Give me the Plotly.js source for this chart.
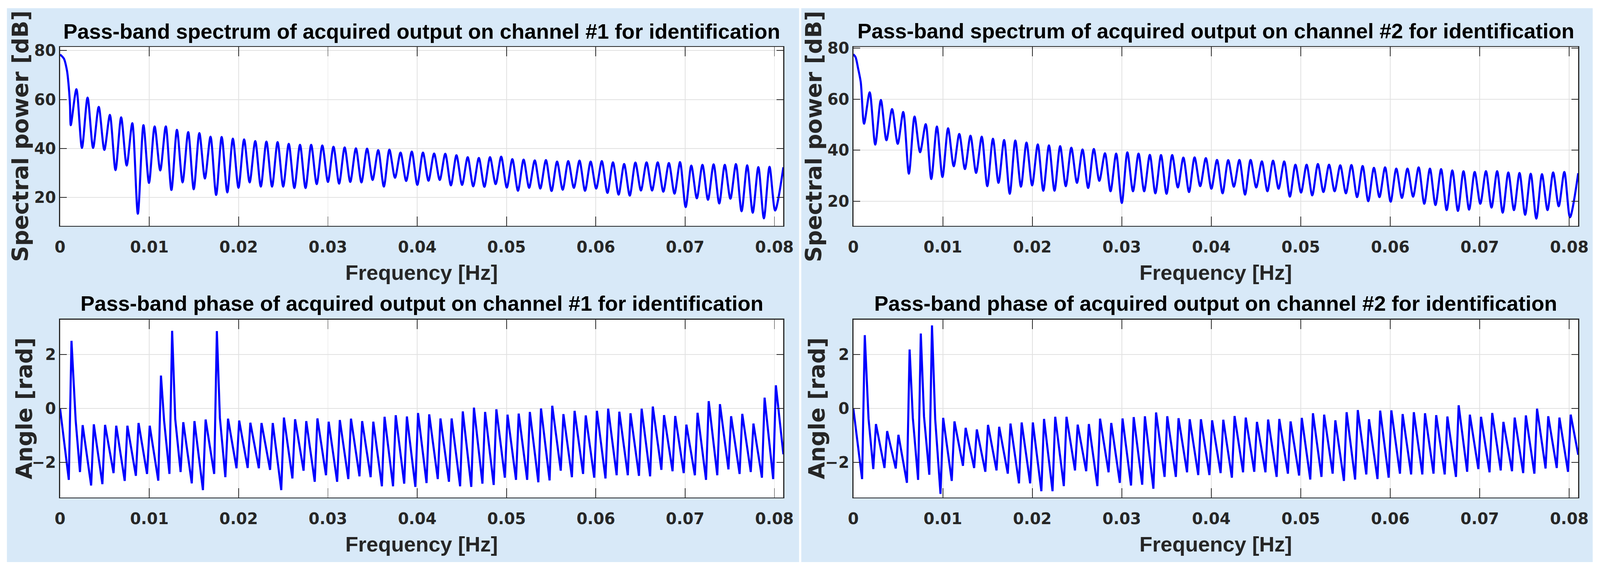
<!DOCTYPE html>
<html>
<head>
<meta charset="utf-8">
<script src="https://cdn.plot.ly/plotly-3.0.1.min.js"></script>
<style>html,body{margin:0;padding:0;background:#fff;overflow:hidden;}</style>
</head>
<body>
<div id="chart"></div>
<script>
// ---------- DATA ----------
// Spectrum: frequencies of the nulls and of the lobe peaks [Hz]
const specNullF = [0.00120,0.00245,0.00370,0.00496,0.00621,0.00746,0.00871,0.00996,0.01122,0.01247,
  0.01372,0.01497,0.01622,0.01748,0.01873,0.01998,0.02123,0.02248,0.02374,0.02499,
  0.02624,0.02749,0.02874,0.03000,0.03125,0.03250,0.03375,0.03500,0.03626,0.03751,
  0.03876,0.04001,0.04126,0.04252,0.04377,0.04502,0.04627,0.04752,0.04878,0.05003,
  0.05128,0.05253,0.05378,0.05504,0.05629,0.05754,0.05879,0.06004,0.06130,0.06255,
  0.06380,0.06505,0.06630,0.06756,0.06881,0.07006,0.07131,0.07256,0.07382,0.07507,
  0.07632,0.07757,0.07882,0.08008];
const specPeakF = [0.00183,0.00308,0.00433,0.00558,0.00684,0.00809,0.00934,0.01059,0.01184,0.01309,
  0.01435,0.01560,0.01685,0.01810,0.01935,0.02061,0.02186,0.02311,0.02436,0.02561,
  0.02687,0.02812,0.02937,0.03062,0.03187,0.03313,0.03438,0.03563,0.03688,0.03813,
  0.03939,0.04064,0.04189,0.04314,0.04439,0.04565,0.04690,0.04815,0.04940,0.05065,
  0.05191,0.05316,0.05441,0.05566,0.05691,0.05817,0.05942,0.06067,0.06192,0.06317,
  0.06443,0.06568,0.06693,0.06818,0.06943,0.07069,0.07194,0.07319,0.07444,0.07569,
  0.07695,0.07820,0.07945];
const fStart = 0, fEnd = 0.081;

// Channel #1 spectrum [dB]
const ch1Start = 78.4, ch1End = 32.3;
const ch1MainLobeF = [0.00043,0.00077,0.00094,0.00111];
const ch1MainLobeDb = [76.7,71.9,66.6,58.0];
const ch1NullDb = [49.5,40.2,40.2,39.4,31.1,33.0,13.3,25.9,31.0,23.0,
  26.1,23.3,27.7,21.0,22.0,23.9,26.1,24.4,24.4,24.4,
  23.8,23.8,25.4,26.3,25.6,26.3,26.1,27.1,24.4,28.0,
  26.7,25.1,26.8,27.1,24.9,25.1,24.5,24.3,25.4,24.0,
  22.7,23.9,23.6,22.6,23.1,23.9,22.7,23.6,21.8,21.1,
  20.7,22.8,22.8,22.3,21.5,16.0,19.6,19.0,17.5,19.4,
  14.3,13.7,11.4,14.6];
const ch1PeakDb = [64.2,60.8,57.0,53.7,52.7,50.3,49.5,49.0,49.0,47.6,
  46.7,46.3,44.8,44.7,44.0,43.7,43.0,42.8,42.6,41.9,
  41.5,41.5,41.2,40.7,40.4,40.0,39.9,39.3,39.5,38.3,
  38.7,38.3,37.9,37.8,37.2,36.4,36.1,36.4,36.6,35.6,
  35.4,35.1,35.2,34.6,34.8,35.0,34.6,34.8,34.3,33.6,
  34.2,34.3,34.3,34.0,34.4,33.0,33.3,33.5,33.3,33.6,
  33.1,32.4,32.5];

// Channel #2 spectrum [dB]
const ch2Start = 77.6, ch2End = 31.0;
const ch2MainLobeF = [0.00026,0.00052,0.00083];
const ch2MainLobeDb = [76.4,72.3,66.7];
const ch2NullDb = [50.4,42.2,43.9,42.5,30.8,39.2,28.7,29.5,33.7,32.6,
  31.1,25.9,27.2,22.9,25.7,26.2,24.1,24.1,25.9,27.2,
  25.2,28.0,23.9,19.3,23.9,23.9,23.1,22.9,25.4,23.6,
  25.9,24.9,23.1,25.7,22.6,25.4,23.9,24.9,21.8,23.4,
  22.3,23.6,23.9,23.1,21.6,20.0,21.6,19.8,21.3,21.8,
  19.0,18.5,16.5,16.2,16.7,19.0,17.5,15.5,16.5,14.7,
  13.2,16.5,18.0,13.7];
const ch2PeakDb = [62.7,59.7,56.1,55.0,53.2,50.2,49.3,48.6,46.4,45.7,
  45.3,44.5,44.0,43.8,43.0,42.3,41.9,41.6,41.0,40.3,
  40.5,38.8,38.7,39.2,38.7,38.2,38.1,38.1,37.1,37.2,
  36.9,36.2,36.1,36.2,36.2,35.6,35.9,35.6,34.3,34.3,
  34.6,34.3,34.1,34.2,33.8,33.1,33.3,32.8,32.8,33.3,
  32.8,32.6,32.1,31.8,31.5,31.8,31.8,31.3,31.1,30.8,
  30.6,31.3,31.5];

// Phase: frequencies of the troughs (just before each jump) and of the jump tops [Hz]
const phaseTroughF = [0.00098,0.00223,0.00348,0.00474,0.00599,0.00724,0.00849,0.00974,0.01100,0.01225,
  0.01350,0.01475,0.01600,0.01726,0.01851,0.01976,0.02101,0.02226,0.02352,0.02477,
  0.02602,0.02727,0.02852,0.02978,0.03103,0.03228,0.03353,0.03478,0.03604,0.03729,
  0.03854,0.03979,0.04104,0.04230,0.04355,0.04480,0.04605,0.04730,0.04856,0.04981,
  0.05106,0.05231,0.05356,0.05482,0.05607,0.05732,0.05857,0.05982,0.06108,0.06233,
  0.06358,0.06483,0.06608,0.06734,0.06859,0.06984,0.07109,0.07234,0.07360,0.07485,
  0.07610,0.07735,0.07860,0.07986];
const phasePeakF = [0.00128,0.00253,0.00378,0.00504,0.00629,0.00754,0.00879,0.01004,0.01130,0.01255,
  0.01380,0.01505,0.01630,0.01756,0.01881,0.02006,0.02131,0.02256,0.02382,0.02507,
  0.02632,0.02757,0.02882,0.03008,0.03133,0.03258,0.03383,0.03508,0.03634,0.03759,
  0.03884,0.04009,0.04134,0.04260,0.04385,0.04510,0.04635,0.04760,0.04886,0.05011,
  0.05136,0.05261,0.05386,0.05512,0.05637,0.05762,0.05887,0.06012,0.06138,0.06263,
  0.06388,0.06513,0.06638,0.06764,0.06889,0.07014,0.07139,0.07264,0.07390,0.07515,
  0.07640,0.07765,0.07890,0.08016];

// Channel #1 phase [rad]
const ph1Start = 0.0, ph1End = -1.70;
const ph1TroughRad = [-2.65,-2.36,-2.86,-2.81,-2.40,-2.69,-2.50,-2.43,-2.68,-2.43,
  -2.36,-2.78,-3.03,-2.43,-2.55,-2.22,-2.21,-2.22,-2.28,-3.03,
  -2.60,-2.31,-2.72,-2.48,-2.72,-2.62,-2.52,-2.55,-2.89,-2.89,
  -2.79,-2.91,-2.77,-2.62,-2.72,-2.89,-2.91,-2.79,-2.84,-2.57,
  -2.65,-2.65,-2.74,-2.67,-2.31,-2.55,-2.43,-2.57,-2.60,-2.48,
  -2.48,-2.50,-2.52,-2.28,-2.33,-2.40,-2.48,-2.65,-2.48,-2.26,
  -2.43,-2.36,-2.57,-2.62];
const ph1PeakRad = [2.51,-0.62,-0.59,-0.61,-0.64,-0.64,-0.54,-0.64,1.22,2.88,
  -0.51,-0.47,-0.41,2.87,-0.38,-0.45,-0.53,-0.54,-0.54,-0.34,
  -0.40,-0.47,-0.37,-0.49,-0.43,-0.38,-0.47,-0.49,-0.31,-0.25,
  -0.30,-0.17,-0.22,-0.37,-0.37,-0.11,0.03,-0.13,-0.03,-0.23,
  -0.19,-0.13,0.00,0.10,-0.21,-0.09,-0.26,-0.09,-0.01,-0.12,
  -0.18,-0.01,0.07,-0.25,-0.28,-0.60,-0.16,0.27,0.16,-0.29,
  -0.20,-0.56,0.40,0.86];
const ph1KneeF = [0.00175,0.01165,0.01290,0.01790];
const ph1KneeRad = [-0.45,-0.45,-0.40,-0.35];

// Channel #2 phase [rad]
const ph2Start = 0.0, ph2End = -1.72;
const ph2TroughRad = [-2.62,-2.25,-2.21,-2.23,-2.76,-2.65,-2.46,-3.17,-2.69,-2.13,
  -2.21,-2.35,-2.30,-2.42,-2.78,-2.78,-3.07,-3.07,-2.88,-2.30,
  -2.33,-2.88,-2.37,-2.76,-2.86,-2.83,-2.98,-2.54,-2.54,-2.37,
  -2.47,-2.47,-2.40,-2.57,-2.37,-2.35,-2.37,-2.54,-2.42,-2.49,
  -2.64,-2.54,-2.42,-2.69,-2.64,-2.45,-2.62,-2.57,-2.42,-2.45,
  -2.45,-2.42,-2.45,-2.54,-2.35,-2.25,-2.37,-2.30,-2.33,-2.40,
  -2.42,-2.23,-2.21,-2.35];
const ph2PeakRad = [2.72,-0.58,-0.84,-0.98,2.19,2.78,3.08,-0.35,-0.48,-0.72,
  -0.78,-0.61,-0.68,-0.56,-0.52,-0.52,-0.39,-0.31,-0.31,-0.60,
  -0.58,-0.38,-0.54,-0.37,-0.32,-0.29,-0.15,-0.29,-0.36,-0.40,
  -0.40,-0.44,-0.42,-0.28,-0.34,-0.50,-0.41,-0.39,-0.48,-0.35,
  -0.18,-0.23,-0.44,-0.14,-0.06,-0.40,-0.08,-0.07,-0.21,-0.14,
  -0.18,-0.25,-0.30,0.12,-0.23,-0.31,-0.17,-0.50,-0.34,-0.26,
  -0.01,-0.29,-0.34,-0.23];
const ph2KneeF = [0.00170,0.00665,0.00790,0.00915];
const ph2KneeRad = [-0.38,-0.35,-0.30,-0.40];

const xTickVals = [0,0.01,0.02,0.03,0.04,0.05,0.06,0.07,0.08];
const xTickText = ['0','0.01','0.02','0.03','0.04','0.05','0.06','0.07','0.08'];
const specTickVals = [20,40,60,80];
const phaseTickVals = [-2,0,2];

const titles = [
  'Pass-band spectrum of acquired output on channel #1 for identification',
  'Pass-band spectrum of acquired output on channel #2 for identification',
  'Pass-band phase of acquired output on channel #1 for identification',
  'Pass-band phase of acquired output on channel #2 for identification'];
const xLabel = 'Frequency [Hz]';
const specYLabel = 'Spectral power [dB]';
const phaseYLabel = 'Angle [rad]';

// ---------- BUILD ----------
function mergeSeries(aF, aV, bF, bV, startV, endV, extraF, extraV) {
  const pts = [[fStart, startV]];
  for (let i = 0; i < aF.length; i++) {
    pts.push([aF[i], aV[i]]);
    if (i < bF.length) pts.push([bF[i], bV[i]]);
  }
  pts.push([fEnd, endV]);
  for (let i = 0; i < extraF.length; i++) pts.push([extraF[i], extraV[i]]);
  pts.sort((p, q) => p[0] - q[0]);
  return { x: pts.map(p => p[0]), y: pts.map(p => p[1]) };
}

const s1 = mergeSeries(specNullF, ch1NullDb, specPeakF, ch1PeakDb, ch1Start, ch1End, ch1MainLobeF, ch1MainLobeDb);
const s2 = mergeSeries(specNullF, ch2NullDb, specPeakF, ch2PeakDb, ch2Start, ch2End, ch2MainLobeF, ch2MainLobeDb);
const p1 = mergeSeries(phaseTroughF, ph1TroughRad, phasePeakF, ph1PeakRad, ph1Start, ph1End, ph1KneeF, ph1KneeRad);
const p2 = mergeSeries(phaseTroughF, ph2TroughRad, phasePeakF, ph2PeakRad, ph2Start, ph2End, ph2KneeF, ph2KneeRad);

// design canvas 4393 x 1466, stretched to fill the real viewport
const W = 4393, H = 1466;
const vw = window.innerWidth || W, vh = window.innerHeight || H;
const SX = vw / W, SY = vh / H, SM = Math.sqrt(SX * SY);
const px = v => v / W;
const py = v => 1 - v / H;

const AX = '#262626';
const tickFont = { family: 'DejaVu Sans, Verdana, sans-serif', size: 43 * SX, color: AX, weight: 'bold' };

function xAxis(x0, x1, anchor) {
  return {
    domain: [px(x0), px(x1)], anchor: anchor, range: [0, 0.081],
    tickmode: 'array', tickvals: xTickVals, ticktext: xTickText,
    ticks: 'inside', ticklen: 24 * SY, tickwidth: 2 * SX, tickcolor: AX,
    showline: true, linecolor: AX, linewidth: 2.5 * SM, mirror: 'allticks',
    showgrid: true, gridcolor: '#e1e1e1', gridwidth: 2 * SX, zeroline: false,
    tickfont: tickFont, ticklabelstandoff: 18 * SY, fixedrange: true
  };
}
function yAxis(y0, y1, range, tv, anchor) {
  return {
    domain: [py(y1), py(y0)], anchor: anchor, range: range,
    tickmode: 'array', tickvals: tv,
    ticks: 'inside', ticklen: 19 * SX, tickwidth: 2 * SY, tickcolor: AX,
    showline: true, linecolor: AX, linewidth: 2.5 * SM, mirror: 'allticks',
    showgrid: true, gridcolor: '#e1e1e1', gridwidth: 2 * SY, zeroline: false,
    tickfont: tickFont, ticklabelstandoff: 12 * SX, fixedrange: true
  };
}

const LX0 = 164.9, LX1 = 2150.8, RX0 = 2342.9, RX1 = 4333.2;
const TY0 = 120, TY1 = 577.5, BY0 = 817.5, BY1 = 1272.5;

const line = { color: '#0000ff', width: 5.5 * SM };
const traces = [
  { type: 'scatter', mode: 'lines', x: s1.x, y: s1.y, xaxis: 'x', yaxis: 'y', line: Object.assign({ shape: 'spline', smoothing: 0.8 }, line), hoverinfo: 'skip' },
  { type: 'scatter', mode: 'lines', x: s2.x, y: s2.y, xaxis: 'x2', yaxis: 'y2', line: Object.assign({ shape: 'spline', smoothing: 0.8 }, line), hoverinfo: 'skip' },
  { type: 'scatter', mode: 'lines', x: p1.x, y: p1.y, xaxis: 'x3', yaxis: 'y3', line: Object.assign({ shape: 'linear' }, line), hoverinfo: 'skip' },
  { type: 'scatter', mode: 'lines', x: p2.x, y: p2.y, xaxis: 'x4', yaxis: 'y4', line: Object.assign({ shape: 'linear' }, line), hoverinfo: 'skip' }
];

const titleFont = { family: 'Liberation Sans, Arial, sans-serif', size: 58 * SX, color: '#000000', weight: 'bold' };
const labelFont = { family: 'Liberation Sans, Arial, sans-serif', size: 58 * SX, color: AX, weight: 'bold' };
const yLabelFont = { family: 'DejaVu Sans, Verdana, sans-serif', size: 57 * SY, color: AX, weight: 'bold' };

function ann(text, x, y, font, angle) {
  return { text: text, xref: 'paper', yref: 'paper', x: px(x), y: py(y), xanchor: 'center', yanchor: 'middle',
    showarrow: false, font: font, textangle: angle || 0 };
}
const LC = (LX0 + LX1) / 2, RC = (RX0 + RX1) / 2;
const annotations = [
  ann(titles[0], LC, 80, titleFont), ann(titles[1], RC, 79, titleFont),
  ann(titles[2], LC, 776, titleFont), ann(titles[3], RC, 776, titleFont),
  ann(xLabel, LC, 697, labelFont), ann(xLabel, RC, 697, labelFont),
  ann(xLabel, LC, 1392, labelFont), ann(xLabel, RC, 1392, labelFont),
  ann(specYLabel, 55, (TY0 + TY1) / 2, yLabelFont, -90), ann(specYLabel, 2234, (TY0 + TY1) / 2, yLabelFont, -90),
  ann(phaseYLabel, 66, (BY0 + BY1) / 2, yLabelFont, -90), ann(phaseYLabel, 2243, (BY0 + BY1) / 2, yLabelFont, -90)
];

const PANEL = 'rgb(216,233,248)';
function rectPx(x0, y0, x1, y1, color) {
  return { type: 'rect', xref: 'paper', yref: 'paper', x0: px(x0), x1: px(x1), y0: py(y1), y1: py(y0),
    fillcolor: color, line: { width: 0 }, layer: 'below' };
}
const shapes = [
  rectPx(19, 21, 2194, 1438, PANEL),
  rectPx(2200, 21, 4373, 1438, PANEL),
  rectPx(LX0, TY0, LX1, TY1, '#ffffff'),
  rectPx(RX0, TY0, RX1, TY1, '#ffffff'),
  rectPx(LX0, BY0, LX1, BY1, '#ffffff'),
  rectPx(RX0, BY0, RX1, BY1, '#ffffff')
];

const layout = {
  width: vw, height: vh, margin: { l: 0, r: 0, t: 0, b: 0 },
  paper_bgcolor: '#ffffff', plot_bgcolor: 'rgba(0,0,0,0)', showlegend: false,
  xaxis: xAxis(LX0, LX1, 'y'),
  yaxis: yAxis(TY0, TY1, [8.4, 81.5], specTickVals, 'x'),
  xaxis2: xAxis(RX0, RX1, 'y2'),
  yaxis2: yAxis(TY0, TY1, [10.4, 80.5], specTickVals, 'x2'),
  xaxis3: xAxis(LX0, LX1, 'y3'),
  yaxis3: yAxis(BY0, BY1, [-3.3, 3.3], phaseTickVals, 'x3'),
  xaxis4: xAxis(RX0, RX1, 'y4'),
  yaxis4: yAxis(BY0, BY1, [-3.3, 3.3], phaseTickVals, 'x4'),
  annotations: annotations, shapes: shapes
};

Plotly.newPlot('chart', traces, layout, { displayModeBar: false, staticPlot: true });
</script>
</body>
</html>
